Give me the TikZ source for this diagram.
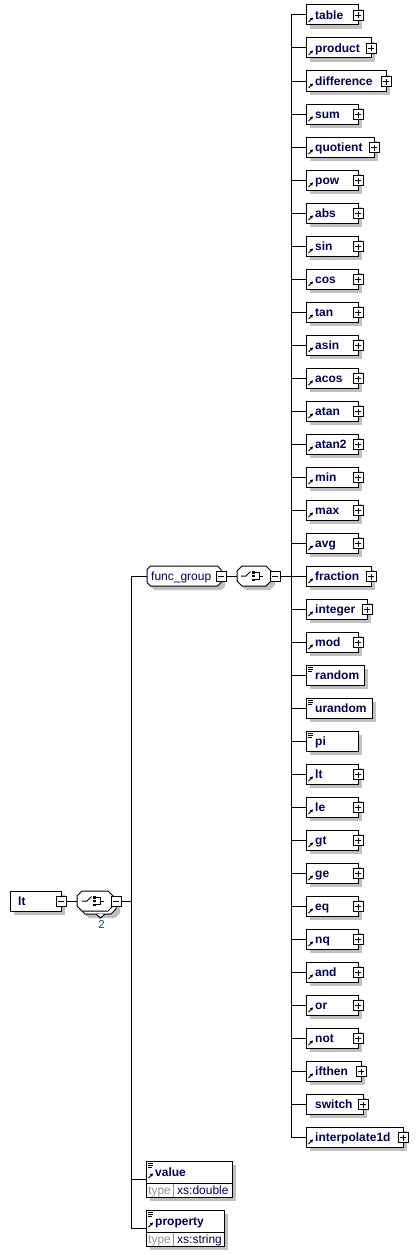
\documentclass[tikz,border=0pt]{standalone}
\usepackage{fontspec}
\setmainfont{Liberation Sans}
\definecolor{navy}{RGB}{0,0,80}
\definecolor{shd}{RGB}{192,192,192}
\definecolor{tgray}{RGB}{150,150,150}
\definecolor{repc}{RGB}{0,85,120}
\newcommand\myocta[4]{%
  \path[#1] ({#2-#4},{#3-5}) -- ({#2-#4+5},{#3-10}) -- ({#2+#4-5},{#3-10}) -- ({#2+#4},{#3-5}) -- ({#2+#4},{#3+5}) -- ({#2+#4-5},{#3+10}) -- ({#2-#4+5},{#3+10}) -- ({#2-#4},{#3+5}) -- cycle;}
\newcommand\mybevel[6]{% style x1 y1 x2 y2 c
  \path[#1] (#2,{#3+#6}) -- ({#2+#6},#3) -- ({#4-#6},#3) -- (#4,{#3+#6}) -- (#4,{#5-#6}) -- ({#4-#6},#5) -- ({#2+#6},#5) -- (#2,{#5-#6}) -- cycle;}
\newcommand\myswitch[2]{%
  \draw[line width=1pt] ({#1-12},#2) -- ({#1-7},#2) -- ({#1-2.5},{#2-4.5});
  \fill ({#1-1},{#2-5}) rectangle ++(2.5,2.5);
  \fill ({#1-1},{#2-1.25}) rectangle ++(2.5,2.5);
  \fill ({#1-1},{#2+2.5}) rectangle ++(2.5,2.5);
  \draw[line width=1pt] ({#1+2},{#2-3.75}) -- ({#1+6},{#2-3.75}) -- ({#1+6},{#2+3.75}) -- ({#1+2},{#2+3.75});
  \draw[line width=1pt] ({#1+6},#2) -- ({#1+10},#2);}
\newcommand\refarrow[2]{%
  \draw[line width=1pt] (#1,#2) -- ++(2.6,-2.6);
  \fill ({#1+4.6},{#2-4.6}) -- ({#1+3.6},{#2-1.3}) -- ({#1+1.3},{#2-3.6}) -- cycle;}
\newcommand\simplemark[2]{% top-left
  \draw[line width=0.8pt] (#1,{#2+2.5}) -- ++(5,0) (#1,{#2+4.5}) -- ++(5,0) (#1,{#2+6.5}) -- ++(4,0);}
\tikzset{
  conn/.style={line width=1pt, draw=black},
  ebox/.style={draw=black, line width=1pt, fill=white, rectangle, minimum height=20pt, inner sep=0pt, anchor=west},
  elabel/.style={font=\fontsize{12}{14}\selectfont\bfseries, text=navy, anchor=base west, inner sep=0pt},
  nlabel/.style={font=\fontsize{12}{14}\selectfont, text=navy, anchor=base west, inner sep=0pt},
  glabel/.style={font=\fontsize{12}{14}\selectfont, text=tgray, anchor=base west, inner sep=0pt},
  signbox/.style={draw=black, line width=0.8pt, fill=white, rectangle, minimum size=10pt, inner sep=0pt},
  plusbox/.style={signbox, path picture={\draw[line width=0.8pt] ([xshift=-3pt]path picture bounding box.center) -- ([xshift=3pt]path picture bounding box.center) ([yshift=-3pt]path picture bounding box.center) -- ([yshift=3pt]path picture bounding box.center);}},
  minusbox/.style={signbox, path picture={\draw[line width=0.8pt] ([xshift=-3pt]path picture bounding box.center) -- ([xshift=3pt]path picture bounding box.center);}},
  hold/.style={inner sep=0pt, minimum height=20pt}
}
\begin{document}
\begin{tikzpicture}[x=1pt,y=-1pt]
\useasboundingbox[fill=white] (0,0) rectangle (417,1255);
% ---------- root element lt
\fill[shd] (14,895) rectangle (65,915);
\node[ebox, minimum width=51pt] (root) at (10,901) {};
\node[elabel] (root-t) at (18,905.5) {lt};
\node[minusbox] (root-m) at (61,901) {};
% ---------- first compositor (choice, maxOccurs 2)
\myocta{fill=shd}{102}{908}{18}
\myocta{draw=black,line width=1pt,fill=white}{98}{904}{18}
\draw[line width=1pt,fill=white] (96,914) -- (100.5,918) -- (105,914);
\myocta{draw=black,line width=1pt,fill=white}{95}{901}{18}
\node[hold, minimum width=36pt] (c1) at (95,901) {};
\myswitch{94}{901}
\node[minusbox] (c1-m) at (116,901) {};
\node[font=\fontsize{11.5}{12}\selectfont, text=repc, inner sep=0pt] (rep) at (101.5,924) {2};
\draw[conn] (root-m.east) -- (c1.west);
% ---------- bus 1
\coordinate (bus1) at (131,901);
\draw[conn] (c1-m.east) -- (bus1);
% ---------- func_group
\mybevel{fill=shd}{151}{570}{225}{590}{3.5}
\mybevel{draw=black,line width=1pt,fill=white}{147}{566}{221}{586}{3.5}
\node[hold, minimum width=74pt] (fg) at (184,576) {};
\node[nlabel] (fg-t) at (151,580) {func\_group};
\node[minusbox] (fg-m) at (221,576) {};
% ---------- second compositor (choice)
\myocta{fill=shd}{258}{580}{17}
\myocta{draw=black,line width=1pt,fill=white}{254}{576}{17}
\node[hold, minimum width=34pt] (c2) at (254,576) {};
\myswitch{253}{576}
\node[minusbox] (c2-m) at (275,576) {};
\draw[conn] (fg-m.east) -- (c2.west);
\coordinate (bus2) at (291,576);
\draw[conn] (c2-m.east) -- (bus2);
% ---------- value / property
\fill[shd] (150,1165) rectangle (236,1201);
\node[ebox, minimum width=86pt, minimum height=36pt] (value) at (146,1179) {};
\draw[line width=1pt] (146,1183) -- (232,1183);
\draw[line width=1pt, draw=tgray] (173,1183.5) -- (173,1196.5);
\simplemark{148}{1161}
\refarrow{148.5}{1178}
\node[elabel] (value-t) at (155,1176) {value};
\node[glabel] (value-k) at (148,1194) {type};
\node[nlabel] (value-v) at (177,1194) {xs:double};
\fill[shd] (150,1214) rectangle (228,1250);
\node[ebox, minimum width=78pt, minimum height=36pt] (property) at (146,1228) {};
\draw[line width=1pt] (146,1232) -- (224,1232);
\draw[line width=1pt, draw=tgray] (173,1232.5) -- (173,1245.5);
\simplemark{148}{1210}
\refarrow{148.5}{1227}
\node[elabel] (property-t) at (155,1225) {property};
\node[glabel] (property-k) at (148,1243) {type};
\node[nlabel] (property-v) at (177,1243) {xs:string};
% bus 1 lines
\draw[conn] (fg.west -| bus1) -- (property.west -| bus1);
\draw[conn] (fg.west -| bus1) -- (fg.west);
\draw[conn] (value.west -| bus1) -- (value.west);
\draw[conn] (property.west -| bus1) -- (property.west);
% ---------- child elements
\foreach \n/\r/\k [count=\i from 0] in {table/358/1, product/371/1, difference/386/1, sum/358/1, quotient/374/1, pow/358/1, abs/358/1, sin/358/1, cos/358/1, tan/358/1, asin/358/1, acos/358/1, atan/358/1, atan2/358/1, min/358/1, max/358/1, avg/358/1, fraction/371/1, integer/367/1, mod/358/1, random/364/2, urandom/372/2, pi/358/2, lt/358/1, le/358/1, gt/358/1, ge/358/1, eq/358/1, nq/358/1, and/358/1, or/358/1, not/358/1, ifthen/361/1, switch/363/3, interpolate1d/403/1}{
  \pgfmathsetmacro\cy{15+33*\i}
  \pgfmathsetmacro\w{\r-306}
  \fill[shd] (310,\cy-6) rectangle (\r+4,\cy+14);
  \node[ebox, minimum width=\w pt] (e-\n) at (306,\cy) {};
  \draw[conn] (e-\n.west -| bus2) -- (e-\n.west);
  \node[elabel] (e-\n-t) at (315,\cy+4.5) {\n};
  \ifnum\k=1
    \refarrow{308.5}{\cy+7}
    \node[plusbox] (e-\n-p) at (\r,\cy+0.5) {};
  \fi
  \ifnum\k=2
    \simplemark{308}{\cy-10}
  \fi
  \ifnum\k=3
    \node[plusbox] (e-\n-p) at (\r,\cy+0.5) {};
  \fi
}
\draw[conn] (e-table.west -| bus2) -- (e-interpolate1d.west -| bus2);
\end{tikzpicture}
\end{document}
